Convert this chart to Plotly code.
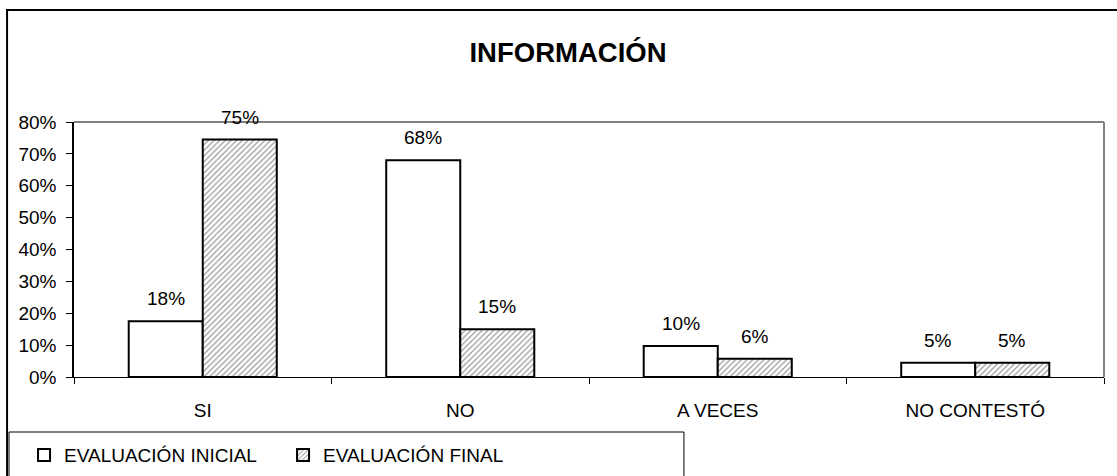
import plotly.graph_objects as go

categories = ["SI", "NO", "A VECES", "NO CONTESTÓ"]
inicial = [0.175, 0.68, 0.097, 0.045]
final = [0.745, 0.15, 0.057, 0.045]
inicial_txt = ["18%", "68%", "10%", "5%"]
final_txt = ["75%", "15%", "6%", "5%"]
y_ticks = [0, 0.1, 0.2, 0.3, 0.4, 0.5, 0.6, 0.7, 0.8]

FONT = "Liberation Sans, Arial, sans-serif"

fig = go.Figure()
fig.add_trace(go.Bar(
    x=categories, y=inicial, name="EVALUACIÓN INICIAL",
    marker=dict(color="white", line=dict(color="black", width=2)),
))
fig.add_trace(go.Bar(
    x=categories, y=final, name="EVALUACIÓN FINAL",
    marker=dict(color="white", line=dict(color="black", width=2),
                pattern=dict(shape="/", fgcolor="#333333", bgcolor="white",
                             size=4, solidity=0.3)),
))

# value labels above each bar
annotations = []
for cat, v, t in zip(categories, inicial, inicial_txt):
    annotations.append(dict(x=cat, y=v, text=t, xshift=-37, yshift=10,
                            yanchor="bottom", showarrow=False,
                            font=dict(size=19, color="black")))
for cat, v, t in zip(categories, final, final_txt):
    annotations.append(dict(x=cat, y=v, text=t, xshift=37, yshift=10,
                            yanchor="bottom", showarrow=False,
                            font=dict(size=19, color="black")))

fig.update_layout(
    width=1117, height=476,
    margin=dict(l=74, r=13, t=122, b=99, autoexpand=False),
    paper_bgcolor="white", plot_bgcolor="white",
    font=dict(family=FONT, size=19, color="black"),
    barmode="group", bargap=0.425, bargroupgap=0,
    title=dict(text="<b>INFORMACIÓN</b>", x=0.5085, xanchor="center",
               y=0.891, yanchor="middle", font=dict(size=27.5, color="black")),
    showlegend=True,
    legend=dict(orientation="h", x=-0.0485, xanchor="left", y=-0.306, yanchor="middle",
                bgcolor="rgba(0,0,0,0)", entrywidth=214,
                font=dict(size=19), itemclick=False),
    annotations=annotations,
    shapes=[
        # outer chart frame (top and left edges visible)
        dict(type="line", xref="paper", yref="paper", x0=-0.066, x1=1.02,
             y0=1.439, y1=1.439, line=dict(color="black", width=2)),
        dict(type="line", xref="paper", yref="paper", x0=-0.065, x1=-0.065,
             y0=1.44, y1=-0.5, line=dict(color="black", width=2)),
        # plot area top/right border
        dict(type="line", xref="paper", yref="paper", x0=0, x1=1, y0=1, y1=1,
             line=dict(color="#808080", width=2)),
        dict(type="line", xref="paper", yref="paper", x0=1, x1=1, y0=0, y1=1,
             line=dict(color="#808080", width=2)),
        # legend box
        dict(type="rect", xref="paper", yref="paper", x0=-0.0631, x1=0.5922,
             y0=-0.5, y1=-0.2157, line=dict(color="black", width=1)),
    ],
)
fig.update_xaxes(showline=True, linecolor="black", linewidth=1,
                 ticks="outside", tickson="boundaries", ticklen=6,
                 tickcolor="black", showgrid=False, ticklabelstandoff=16)
fig.update_yaxes(range=[0, 0.8], tickvals=y_ticks, tickformat=".0%",
                 showline=True, linecolor="black", linewidth=1.5,
                 ticks="outside", ticklen=6, tickcolor="black",
                 showgrid=False, zeroline=False, ticklabelstandoff=6)

fig.write_html("out.html", config={"displayModeBar": False},
               post_script="document.body.style.margin='0';")
